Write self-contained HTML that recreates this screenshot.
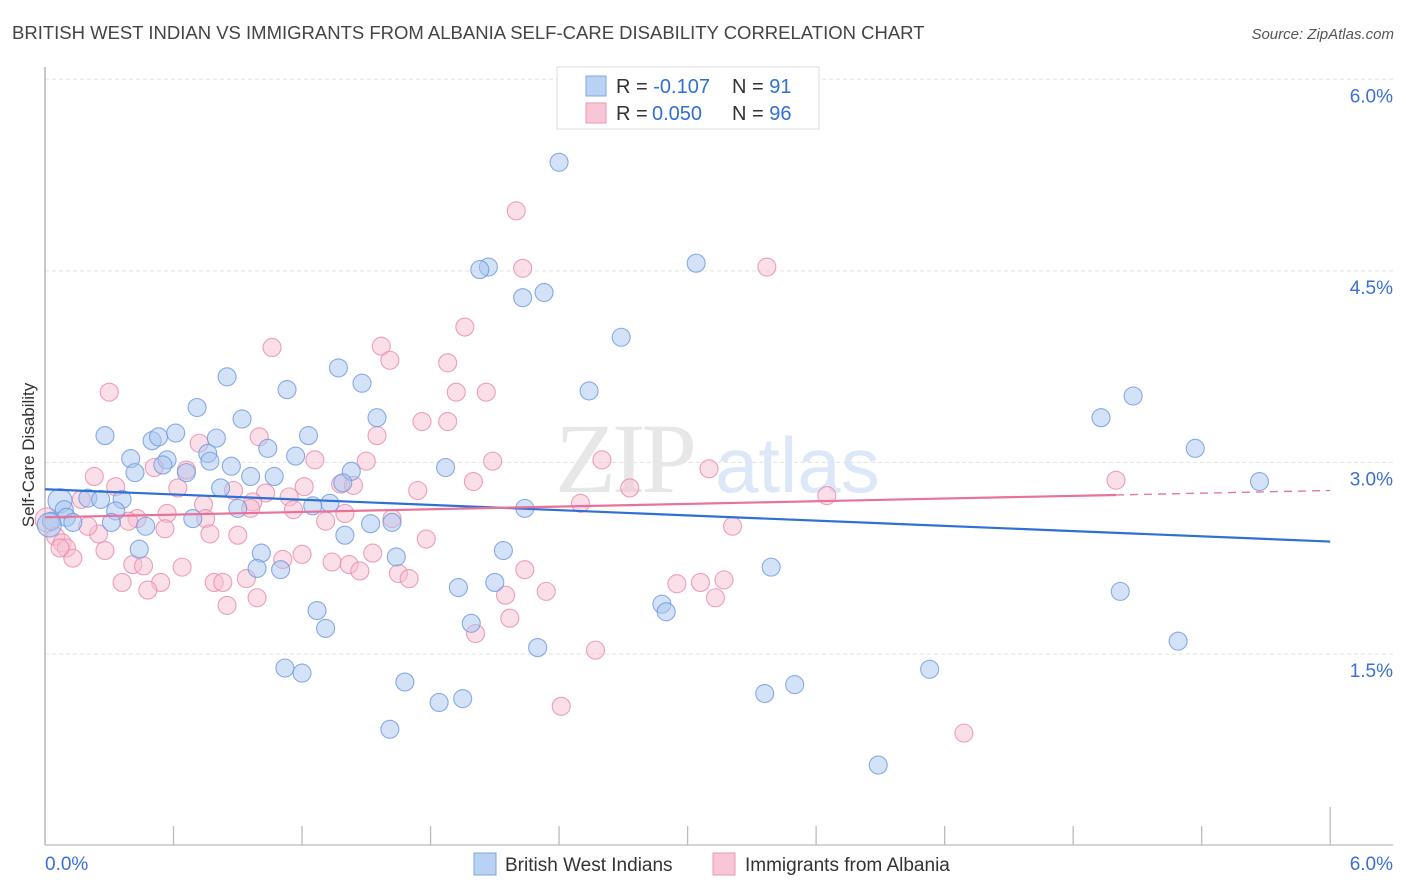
<!DOCTYPE html>
<html><head><meta charset="utf-8">
<style>
body{margin:0;background:#fff;font-family:"Liberation Sans",sans-serif;}
#wrap{position:relative;width:1406px;height:892px;overflow:hidden;}
</style></head>
<body>
<div id="wrap">
<svg id="chart" width="1406" height="892" xmlns="http://www.w3.org/2000/svg">
<text x="12" y="39" font-size="18.5" fill="#444">BRITISH WEST INDIAN VS IMMIGRANTS FROM ALBANIA SELF-CARE DISABILITY CORRELATION CHART</text>
<text x="1394" y="39" font-size="15" fill="#555" font-style="italic" text-anchor="end">Source: ZipAtlas.com</text>
<g opacity="0.35">
<text x="555" y="492" font-size="100" font-family="Liberation Serif,serif" fill="#bbb" letter-spacing="-4">ZIP</text>
<text x="715" y="492" font-size="78" fill="#9ec0ea">atlas</text>
</g>
<g id="grid"></g>
<g id="axes"></g>
<g id="marks"></g>
<text transform="translate(34,455) rotate(-90)" font-size="17" fill="#333" text-anchor="middle">Self-Care Disability</text>
<g>
<rect x="557" y="67" width="262" height="62" fill="#fff" stroke="#ddd"/>
<rect x="586" y="76" width="20" height="20" fill="#b9d1f3" stroke="#7ea6e6"/>
<text x="616" y="93" font-size="20" fill="#333">R = <tspan fill="#2f6fd6">-0.107</tspan><tspan x="732">N = </tspan><tspan fill="#2f6fd6">91</tspan></text>
<rect x="586" y="103" width="20" height="20" fill="#f8c6d6" stroke="#eb9ab4"/>
<text x="616" y="120" font-size="20" fill="#333">R = <tspan x="652" fill="#2f6fd6">0.050</tspan><tspan x="732">N = </tspan><tspan fill="#2f6fd6">96</tspan></text>
</g>
<g>
<rect x="474" y="853" width="22" height="22" fill="#b9d1f3" stroke="#7ea6e6"/>
<text x="505" y="871" font-size="19" fill="#333">British West Indians</text>
<rect x="713" y="853" width="22" height="22" fill="#f8c6d6" stroke="#eb9ab4"/>
<text x="745" y="871" font-size="19" fill="#333">Immigrants from Albania</text>
</g>
</svg>
</div>
<script>
const NS="http://www.w3.org/2000/svg";
const yTicks=[1.5,3.0,4.5,6.0];
const yTickLabels=["1.5%","3.0%","4.5%","6.0%"];
const xTickValues=[0,0.6,1.2,1.8,2.4,3.0,3.6,4.2,4.8,5.4,6.0];
const xEndLabels=["0.0%","6.0%"];
const blueX=[2.40,2.07,2.03,3.04,2.23,2.33,2.69,0.85,1.37,1.48,1.13,0.71,0.92,1.55,4.93,5.08,2.54,0.28,0.50,0.53,0.61,0.80,1.23,1.04,1.17,0.40,0.57,0.55,0.76,0.77,0.87,1.87,1.43,5.37,5.67,0.42,0.66,0.96,1.07,1.39,0.82,0.20,0.26,0.36,0.07,0.09,0.33,0.90,1.33,1.25,2.24,0.10,0.03,0.13,0.31,0.47,0.69,1.52,1.62,1.40,0.44,1.01,2.14,0.99,1.10,1.64,3.39,2.10,1.93,5.02,2.88,2.90,1.27,1.31,1.99,2.30,5.29,1.12,1.20,4.13,1.68,3.50,3.36,1.95,1.84,1.61,3.89,0.02];
const blueY=[5.35,4.53,4.51,4.56,4.29,4.33,3.98,3.67,3.74,3.62,3.57,3.43,3.34,3.35,3.35,3.52,3.56,3.21,3.17,3.20,3.23,3.19,3.21,3.11,3.05,3.03,3.02,2.98,3.07,3.01,2.97,2.96,2.93,3.11,2.85,2.92,2.92,2.89,2.89,2.84,2.80,2.72,2.71,2.71,2.70,2.63,2.62,2.64,2.68,2.66,2.64,2.57,2.54,2.53,2.53,2.50,2.56,2.52,2.53,2.43,2.32,2.29,2.31,2.17,2.16,2.26,2.18,2.06,2.02,1.99,1.89,1.83,1.84,1.70,1.74,1.55,1.60,1.39,1.35,1.38,1.28,1.26,1.19,1.15,1.12,0.91,0.63,2.51];
const pinkX=[2.20,2.23,3.37,1.96,1.06,1.57,1.61,1.88,0.30,1.92,2.06,1.76,1.88,1.55,0.72,1.00,0.23,0.51,0.66,1.50,2.09,2.60,3.10,5.00,1.26,0.62,0.88,1.03,1.14,1.38,1.44,1.21,1.74,2.00,2.73,3.65,0.97,0.74,0.96,1.16,1.31,1.40,2.50,0.43,0.57,1.62,0.33,0.17,0.39,0.75,0.05,0.08,0.10,0.13,0.07,0.25,0.56,0.77,0.90,0.20,1.78,3.21,0.28,1.20,1.53,1.34,1.42,1.47,1.11,2.24,1.65,1.70,0.41,0.46,0.64,0.36,0.54,0.79,0.83,0.94,0.48,2.95,3.06,3.17,2.15,2.34,0.99,0.85,3.13,2.17,2.01,2.57,2.41,4.29,0.01];
const pinkY=[4.97,4.52,4.53,4.06,3.90,3.91,3.80,3.78,3.55,3.55,3.55,3.32,3.32,3.21,3.15,3.20,2.89,2.96,2.94,3.01,3.01,3.02,2.95,2.86,3.02,2.80,2.78,2.76,2.73,2.83,2.82,2.81,2.78,2.85,2.80,2.74,2.69,2.67,2.64,2.63,2.54,2.60,2.68,2.56,2.60,2.56,2.81,2.71,2.54,2.56,2.42,2.37,2.33,2.25,2.33,2.44,2.48,2.44,2.43,2.50,2.40,2.50,2.31,2.28,2.29,2.22,2.20,2.15,2.24,2.16,2.13,2.09,2.20,2.19,2.18,2.06,2.06,2.06,2.06,2.09,2.00,2.05,2.06,2.08,1.96,1.99,1.94,1.88,1.94,1.78,1.66,1.53,1.09,0.88,2.55];
const blueTrend=[2.79,2.38];
const pinkTrend=[2.57,2.78];
const pinkSolidEnd=5.0;

const X=v=>45+v*214.2;
const Y=v=>845.5-v*127.7;
function mk(tag,attrs,parent){const e=document.createElementNS(NS,tag);for(const k in attrs)e.setAttribute(k,attrs[k]);parent.appendChild(e);return e;}
const grid=document.getElementById('grid'),axes=document.getElementById('axes'),marks=document.getElementById('marks');
yTicks.forEach((t,i)=>{
  const l=mk('line',{x1:45,x2:1393,y1:Y(t),y2:Y(t),stroke:'#e3e3e3','stroke-dasharray':'4,3'},grid);
  
  
  const tx=mk('text',{x:1393,y:Y(t)+23,'font-size':19,fill:'#3b6fd6','text-anchor':'end'},axes);
  tx.textContent=yTickLabels[i];
  
  
});
const ya=mk('line',{x1:45,x2:45,y1:67,y2:845,stroke:'#aaa','stroke-width':1.3},axes);


const xa=mk('line',{x1:45,x2:1393,y1:845,y2:845,stroke:'#bbb','stroke-width':1.3},axes);


xTickValues.forEach((t,i)=>{
  const tk=mk('line',{x1:X(t),x2:X(t),y1:(i==0||i==xTickValues.length-1)?807:826,y2:845,stroke:'#bbb','stroke-width':1.3},axes);
  
  
});
[[0,'start',45],[1,'end',1393]].forEach(([i,a,x])=>{
  const tx=mk('text',{x:x,y:870,'font-size':19,fill:'#3b6fd6','text-anchor':a},axes);
  tx.textContent=xEndLabels[i];
  
  
});
function dots(xs,ys,fill,stroke,name){
  xs.forEach((x,i)=>{
    const big=(x<0.1&&(i===xs.length-1||i===44));
    const c=mk('circle',{cx:X(x),cy:Y(ys[i]),r:big?12:9,fill:fill,'fill-opacity':0.5,stroke:stroke,'stroke-opacity':0.8,'stroke-width':1.1},marks);
    
    
  });
}
dots(pinkX,pinkY,'#f8c0d2','#e88aa8','albania-point');
dots(blueX,blueY,'#aac6f0','#6b98de','bwi-point');
const bl=mk('line',{x1:X(0),y1:Y(blueTrend[0]),x2:X(6),y2:Y(blueTrend[1]),stroke:'#2f6fd6','stroke-width':2.2},marks);


const pAt=v=>pinkTrend[0]+(pinkTrend[1]-pinkTrend[0])*v/6;
const pl=mk('line',{x1:X(0),y1:Y(pAt(0)),x2:X(pinkSolidEnd),y2:Y(pAt(pinkSolidEnd)),stroke:'#e8729a','stroke-width':2.2},marks);


const pd=mk('line',{x1:X(pinkSolidEnd),y1:Y(pAt(pinkSolidEnd)),x2:X(6),y2:Y(pAt(6)),stroke:'#e8729a','stroke-width':1.3,'stroke-dasharray':'8,6'},marks);


</script>
</body></html>
